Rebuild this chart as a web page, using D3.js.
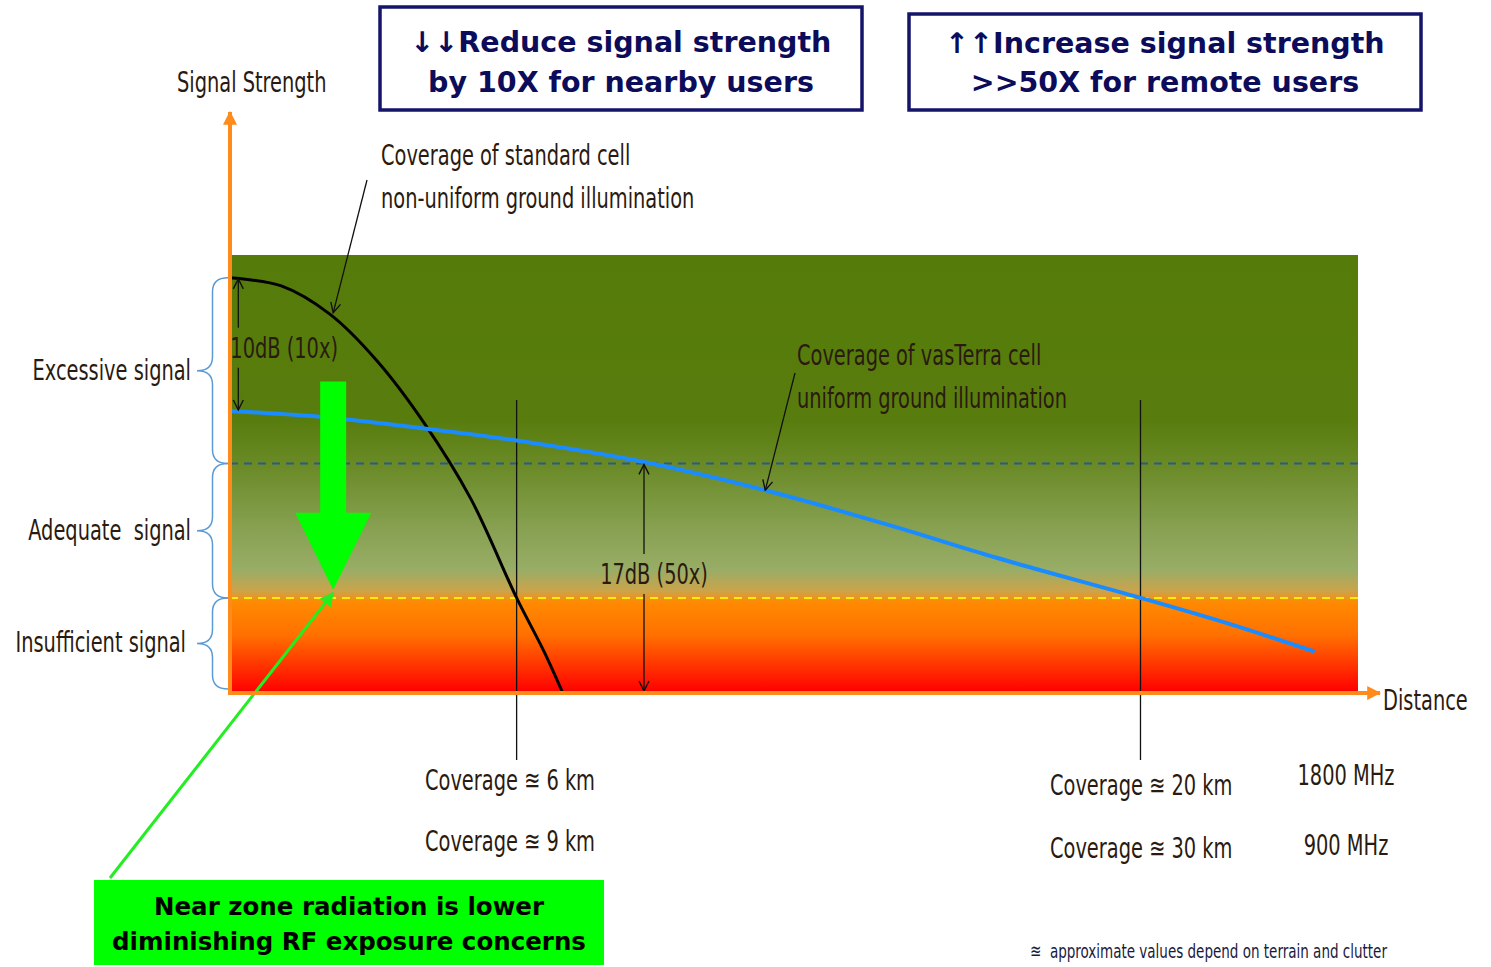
<!DOCTYPE html>
<html>
<head>
<meta charset="utf-8">
<script src="https://cdn.jsdelivr.net/npm/d3@7"></script>
<style>
  body { margin: 0; background: #fff; }
  svg { display: block; }
  text { white-space: pre; }
</style>
</head>
<body>
<div id="chart"></div>
<script>
// signal levels in dB above the "no service" floor, distance in km
const standardKm = [0, 1, 2, 3, 4, 5, 6, 6.6, 7];
const standardDb = [30.8, 30.2, 28.1, 24.6, 20.0, 14.4, 7.0, 3.0, 0];
const vasterraKm = [0, 2, 4, 6, 8.8, 11.5, 14.4, 16.7, 20, 22, 24];
const vasterraDb = [20.9, 20.4, 19.6, 18.7, 17.1, 15.0, 12.3, 10.0, 7.0, 5.1, 3.0];

const levelNames = ["Insufficient signal", "Adequate  signal", "Excessive signal"];
const levelLow = [0, 7, 17];
const levelHigh = [7, 17, 30.8];

const markerKm = [6, 20];
const cover1800 = ["6 km", "20 km"];
const cover900 = ["9 km", "30 km"];
const bandNames = ["1800 MHz", "900 MHz"];

const gapLabels = ["10dB (10x)", "17dB (50x)"];
const gapKm = [0.15, 8.8];
const gapFrom = [20.9, 0];
const gapTo = [30.8, 17];

const W = 1491, H = 967;
const narrow = "'Liberation Sans Narrow', 'DejaVu Sans Condensed', 'DejaVu Sans', sans-serif";
const comic = "'DejaVu Sans', sans-serif";
const squeeze = 0.77;

const x = d3.scalePow().exponent(0.96).domain([0, 25]).range([230, 1358]);
const y = d3.scaleLinear().domain([0, 32.5]).range([692, 255]);

const svg = d3.select("#chart").append("svg")
    .attr("width", W)
    .attr("height", H);

const defs = svg.append("defs");

const grad = defs.append("linearGradient")
    .attr("id", "bg")
    .attr("gradientUnits", "userSpaceOnUse")
    .attr("x1", 0).attr("x2", 0)
    .attr("y1", y(32.5)).attr("y2", y(0));
[["0%", "#557b0a"], ["38%", "#587d0e"], ["48%", "#6a8a26"], ["62%", "#86a050"],
 ["72%", "#98ad66"], ["77%", "#cda34a"], ["79.5%", "#ff8a00"], ["87%", "#ff7000"],
 ["100%", "#ff0000"]].forEach(function(s){
    grad.append("stop").attr("offset", s[0]).attr("stop-color", s[1]);
});

function marker(id, color, open){
    const m = defs.append("marker")
        .attr("id", id)
        .attr("viewBox", "0 0 12 12")
        .attr("refX", 11).attr("refY", 6)
        .attr("markerWidth", open ? 12 : 14)
        .attr("markerHeight", open ? 12 : 14)
        .attr("markerUnits", "userSpaceOnUse")
        .attr("orient", "auto-start-reverse");
    if(open){
        m.append("path").attr("d", "M1,1 L11,6 L1,11")
            .attr("fill", "none").attr("stroke", color).attr("stroke-width", 1.4);
    }else{
        m.append("path").attr("d", "M0,0 L12,6 L0,12 Z").attr("fill", color);
    }
}
marker("arrOpen", "#111", true);
marker("arrOrange", "#ff8c1a", false);
marker("arrGreen", "#22ee22", false);

// condensed text: the reference font is narrow, so squeeze horizontally
function label(tx, ty, str, size, anchor, color){
    return svg.append("text")
        .attr("transform", "translate(" + tx + "," + ty + ") scale(" + squeeze + ",1)")
        .attr("text-anchor", anchor || "start")
        .attr("font-family", narrow)
        .attr("font-size", size || 28)
        .attr("fill", color || "#2a1a10")
        .text(str);
}

/* ------- BACKGROUND BANDS ------- */
svg.append("rect")
    .attr("x", x(0)).attr("y", y(32.5))
    .attr("width", x(25) - x(0))
    .attr("height", y(0) - y(32.5))
    .attr("fill", "url(#bg)");

// threshold lines
svg.append("line")
    .attr("x1", x(0)).attr("x2", x(25))
    .attr("y1", y(levelLow[2])).attr("y2", y(levelLow[2]))
    .attr("stroke", "#2a5a8c").attr("stroke-width", 2)
    .attr("stroke-dasharray", "8,6");
svg.append("line")
    .attr("x1", x(0)).attr("x2", x(25))
    .attr("y1", y(levelLow[1])).attr("y2", y(levelLow[1]))
    .attr("stroke", "#ffee00").attr("stroke-width", 2)
    .attr("stroke-dasharray", "8,6");

/* ------- COVERAGE MARKERS ------- */
svg.selectAll("line.marker").data(markerKm).enter()
    .append("line")
    .attr("class", "marker")
    .attr("x1", d => x(d)).attr("x2", d => x(d))
    .attr("y1", 400).attr("y2", 760)
    .attr("stroke", "#111").attr("stroke-width", 1.3);

/* ------- CURVES ------- */
const line = d3.line()
    .x(d => x(d[0]))
    .y(d => y(d[1]))
    .curve(d3.curveCatmullRom);

svg.append("path")
    .datum(d3.zip(standardKm, standardDb))
    .attr("d", line)
    .attr("fill", "none")
    .attr("stroke", "#000")
    .attr("stroke-width", 3);

svg.append("path")
    .datum(d3.zip(vasterraKm, vasterraDb))
    .attr("d", line)
    .attr("fill", "none")
    .attr("stroke", "#1a8cff")
    .attr("stroke-width", 4);

/* ------- DB GAP ARROWS ------- */
gapLabels.forEach(function(lbl, i){
    const gx = x(gapKm[i]);
    const top = y(gapTo[i]), bot = y(gapFrom[i]);
    const ty = i === 0 ? top + 80 : bot - 108;
    svg.append("line")
        .attr("x1", gx).attr("x2", gx)
        .attr("y1", ty - 30).attr("y2", top + 1)
        .attr("stroke", "#111").attr("stroke-width", 1.3)
        .attr("marker-end", "url(#arrOpen)");
    svg.append("line")
        .attr("x1", gx).attr("x2", gx)
        .attr("y1", ty + 10).attr("y2", bot - 1)
        .attr("stroke", "#111").attr("stroke-width", 1.3)
        .attr("marker-end", "url(#arrOpen)");
    label(i === 0 ? gx - 8 : gx + 10, ty, lbl, 28, i === 0 ? "start" : "middle");
});

/* ------- BIG GREEN ARROW ------- */
const gKm = 2.07, gFrom = 23.1, gTo = 7.6;
const gx = x(gKm), gy0 = y(gFrom), gy1 = y(gTo);
svg.append("path")
    .attr("d", "M" + (gx - 13) + "," + gy0 + " L" + (gx + 13) + "," + gy0 +
               " L" + (gx + 13) + "," + (gy1 - 77) + " L" + (gx + 38) + "," + (gy1 - 77) +
               " L" + gx + "," + gy1 + " L" + (gx - 38) + "," + (gy1 - 77) +
               " L" + (gx - 13) + "," + (gy1 - 77) + " Z")
    .attr("fill", "#00ff00");

svg.append("line")
    .attr("x1", 110).attr("y1", 878)
    .attr("x2", gx).attr("y2", gy1 + 3)
    .attr("stroke", "#22ee22").attr("stroke-width", 3)
    .attr("marker-end", "url(#arrGreen)");

/* ------- AXES ------- */
svg.append("line")
    .attr("x1", x(0)).attr("x2", x(0))
    .attr("y1", y(0) + 2).attr("y2", 112)
    .attr("stroke", "#ff8c1a").attr("stroke-width", 4)
    .attr("marker-end", "url(#arrOrange)");
svg.append("line")
    .attr("x1", x(0) - 2).attr("x2", 1380)
    .attr("y1", y(0) + 1).attr("y2", y(0) + 1)
    .attr("stroke", "#ff8c1a").attr("stroke-width", 4)
    .attr("marker-end", "url(#arrOrange)");

label(177, 92, "Signal Strength", 28);
label(1383, 710, "Distance", 28);

/* ------- LEVEL BRACES ------- */
function brace(x0, y1, y2, w){
    const ym = (y1 + y2) / 2, r = 14, xb = x0 - w / 2;
    return "M" + x0 + "," + y1 +
        " Q" + xb + "," + y1 + " " + xb + "," + (y1 + r) +
        " L" + xb + "," + (ym - r) +
        " Q" + xb + "," + ym + " " + (x0 - w) + "," + ym +
        " Q" + xb + "," + ym + " " + xb + "," + (ym + r) +
        " L" + xb + "," + (y2 - r) +
        " Q" + xb + "," + y2 + " " + x0 + "," + y2;
}
levelNames.forEach(function(name, i){
    const y1 = y(levelHigh[i]), y2 = y(levelLow[i]) - (i === 0 ? 3 : 0);
    svg.append("path")
        .attr("d", brace(228, y1, y2, 31))
        .attr("fill", "none")
        .attr("stroke", "#5b9bd5")
        .attr("stroke-width", 1.5);
    label(i === 0 ? 186 : 191, (y1 + y2) / 2 + 9, name, 28, "end");
});

/* ------- CURVE CALLOUTS ------- */
function callout(tx, ty, lines, fromX, fromY, km, db){
    lines.forEach(function(l, i){
        label(tx, ty + i * 43, l, 28);
    });
    svg.append("line")
        .attr("x1", fromX).attr("y1", fromY)
        .attr("x2", x(km)).attr("y2", y(db))
        .attr("stroke", "#111").attr("stroke-width", 1.3)
        .attr("marker-end", "url(#arrOpen)");
}
callout(381, 165, ["Coverage of standard cell", "non-uniform ground illumination"], 367, 180, 2.07, 28.2);
callout(797, 365, ["Coverage of vasTerra cell", "uniform ground illumination"], 795, 373, 11.5, 15.0);

/* ------- COVERAGE LABELS ------- */
const covX = [425, 1050];
markerKm.forEach(function(k, i){
    label(covX[i], 790 + i * 5, "Coverage \u224A " + cover1800[i], 28);
    label(covX[i], 851 + i * 7, "Coverage \u224A " + cover900[i], 28);
});
bandNames.forEach(function(b, i){
    label(1346, 785 + i * 70, b, 28, "middle");
});

label(1030, 958, "\u224A  approximate values depend on terrain and clutter", 19.5, "start", "#1a1a40");

/* ------- MESSAGE BOXES ------- */
function box(bx, by, bw, bh, lines, size, first, gap, fill, stroke, color){
    svg.append("rect")
        .attr("x", bx).attr("y", by).attr("width", bw).attr("height", bh)
        .attr("fill", fill)
        .attr("stroke", stroke).attr("stroke-width", stroke === "none" ? 0 : 3.5);
    const t = svg.append("text")
        .attr("text-anchor", "middle")
        .attr("font-family", comic).attr("font-weight", "bold")
        .attr("font-size", size)
        .attr("fill", color);
    lines.forEach(function(l, i){
        t.append("tspan").attr("x", bx + bw / 2)
            .attr("y", by + first + i * gap).text(l);
    });
}
box(380, 7, 482, 103, ["\u2193\u2193Reduce signal strength", "by 10X for nearby users"], 28.5, 45, 40, "#fff", "#14146b", "#0c0c5a");
box(909, 14, 512, 96, ["\u2191\u2191Increase signal strength", ">>50X for remote users"], 28.5, 39, 39, "#fff", "#14146b", "#0c0c5a");
box(94, 880, 510, 85, ["Near zone radiation is lower", "diminishing RF exposure concerns"], 24.5, 35, 35, "#00ff00", "none", "#000");
</script>
</body>
</html>
